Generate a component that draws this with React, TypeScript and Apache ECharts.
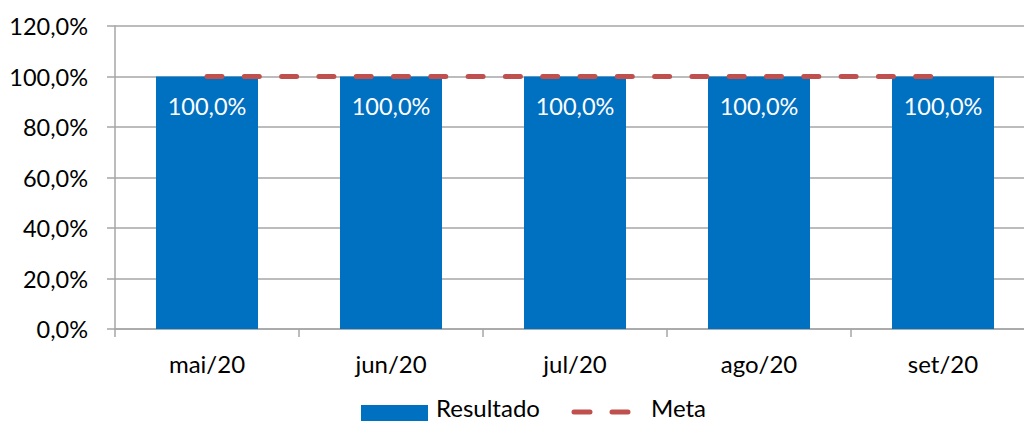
import React, { useEffect, useRef } from "react";
import * as echarts from "echarts";

const categories = ["mai/20", "jun/20", "jul/20", "ago/20", "set/20"];
const resultado = [100, 100, 100, 100, 100];
const meta = [100, 100, 100, 100, 100];
const yTicks = { min: 0, max: 120, interval: 20 };

const FONT = "Lato";
const BLUE = "#0070C0";
const RED = "#C0504D";
const GRID = "#a6a6a6";
const fmt = (v: number) => v.toFixed(1).replace(".", ",") + "%";

export default function App() {
  const ref = useRef<HTMLDivElement>(null);
  useEffect(() => {
    if (!ref.current) return;
    const chart = echarts.init(ref.current, undefined, { renderer: "svg" });
    chart.setOption({
      animation: false,
      textStyle: { fontFamily: FONT },
      grid: { left: 115, right: 0, top: 26, bottom: 92, containLabel: false },
      legend: { show: false },
      graphic: [
        { type: "rect", shape: { x: 361, y: 405, width: 67, height: 16 }, style: { fill: BLUE } },
        {
          type: "text",
          x: 436,
          y: 407,
          style: { text: "Resultado", font: `24px ${FONT}`, fill: "#000", verticalAlign: "middle", align: "left", lineHeight: 24 },
        },
        {
          type: "line",
          shape: { x1: 574, y1: 412, x2: 628, y2: 412 },
          style: { stroke: RED, lineWidth: 5, lineDash: [16, 22], lineCap: "round" },
        },
        {
          type: "text",
          x: 651,
          y: 407,
          style: { text: "Meta", font: `24px ${FONT}`, fill: "#000", verticalAlign: "middle", align: "left", lineHeight: 24 },
        },
      ],
      xAxis: {
        type: "category",
        data: categories,
        axisLine: { lineStyle: { color: GRID, width: 1.5 } },
        axisTick: { show: true, length: 8, lineStyle: { color: GRID, width: 1.5 } },
        axisLabel: { color: "#000", fontSize: 24, fontFamily: FONT, margin: 22 },
      },
      yAxis: {
        type: "value",
        min: yTicks.min,
        max: yTicks.max,
        interval: yTicks.interval,
        axisLine: { show: true, lineStyle: { color: GRID, width: 1.5 } },
        axisTick: { show: true, length: 8, lineStyle: { color: GRID, width: 1.5 } },
        splitLine: { lineStyle: { color: GRID, width: 1.5 } },
        axisLabel: { color: "#000", fontSize: 23.5, fontFamily: FONT, margin: 27, formatter: (v: number) => fmt(v) },
      },
      series: [
        {
          name: "Resultado",
          type: "bar",
          data: resultado,
          barWidth: 102,
          itemStyle: { color: BLUE },
          label: {
            show: true,
            position: "insideTop",
            distance: 17,
            color: "#fff",
            fontSize: 23.5,
            fontFamily: FONT,
            formatter: (p: any) => fmt(p.value),
          },
        },
        {
          name: "Meta",
          type: "line",
          data: meta,
          symbol: "none",
          z: 5,
          lineStyle: { color: RED, width: 5, type: [15, 22.3], cap: "round" },
          itemStyle: { color: RED },
        },
      ],
    });
    return () => chart.dispose();
  }, []);
  return (
    <div style={{ width: 1024, height: 421, position: "absolute", left: 0, top: 0, overflow: "hidden" }}>
      <div ref={ref} style={{ width: 1035, height: 421 }} />
    </div>
  );
}
